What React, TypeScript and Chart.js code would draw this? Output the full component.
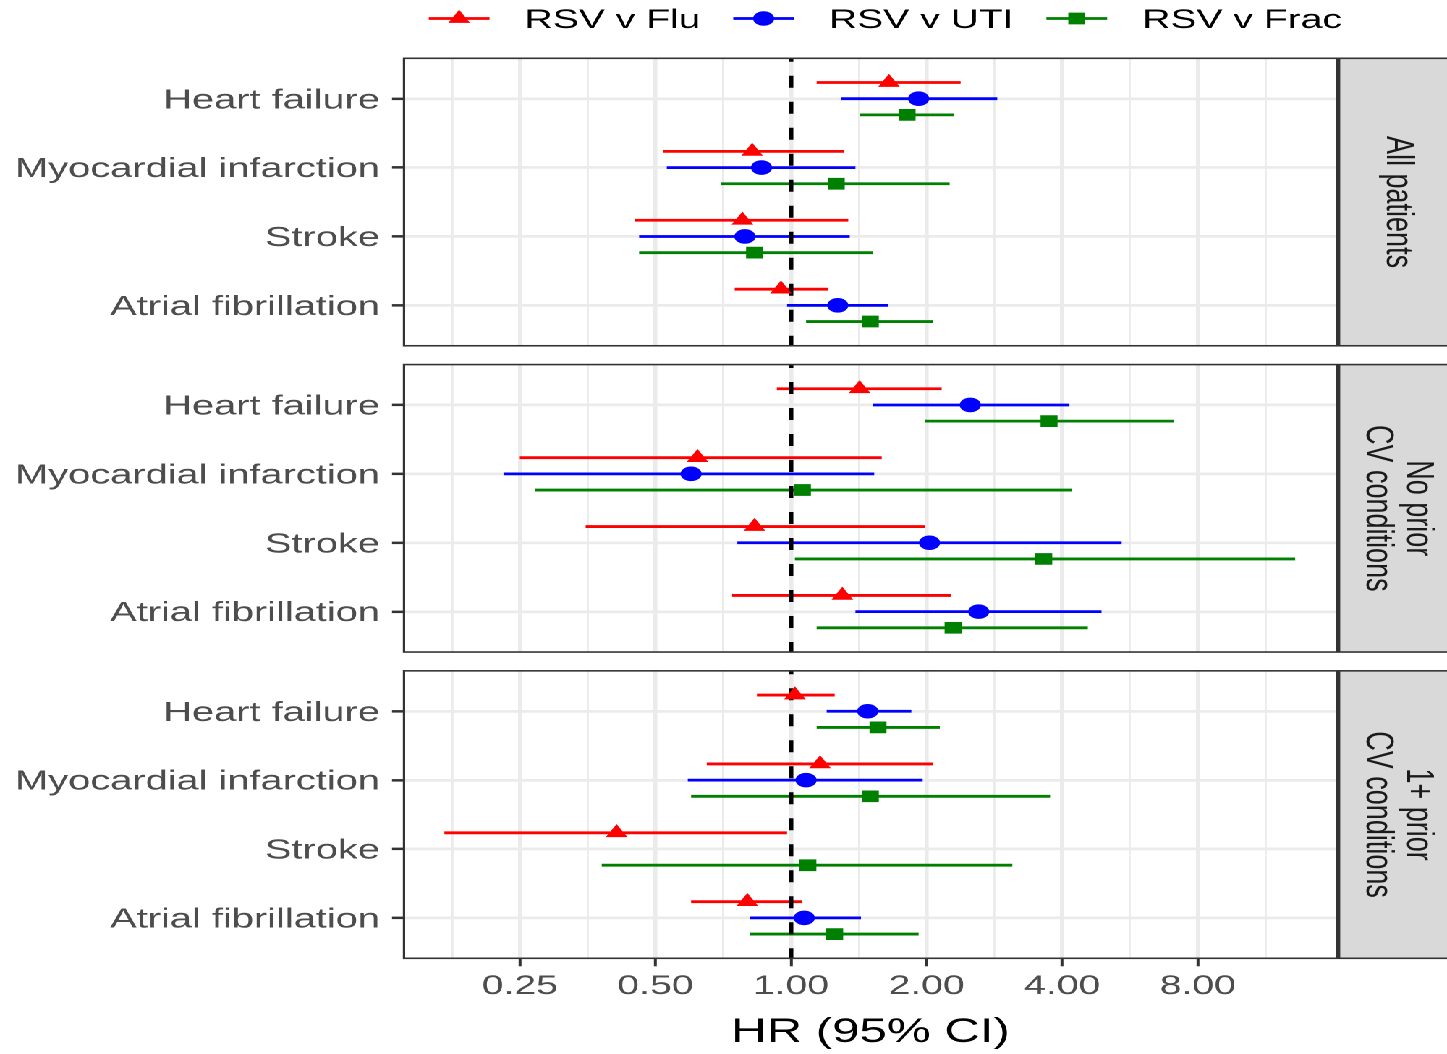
import React, { useEffect, useRef } from 'react';
import { Chart, registerables } from 'chart.js';

Chart.register(...registerables);

// ---------------- data ----------------
const categories = ['Heart failure', 'Myocardial infarction', 'Stroke', 'Atrial fibrillation'];
const facetLabels = [['All patients'], ['No prior', 'CV conditions'], ['1+ prior', 'CV conditions']];
const seriesNames = ['RSV v Flu', 'RSV v UTI', 'RSV v Frac'];
const seriesColors = ['#ff0000', '#0000ff', '#008000'];
const seriesShapes = ['triangle', 'circle', 'rect'];

// values listed facet by facet (All / No prior / 1+ prior), categories in order
const fluHR = [1.65, 0.82, 0.78, 0.95, 1.42, 0.62, 0.83, 1.30, 1.02, 1.16, 0.41, 0.80];
const fluLower = [1.14, 0.52, 0.45, 0.75, 0.93, 0.25, 0.35, 0.74, 0.84, 0.65, 0.17, 0.60];
const fluUpper = [2.38, 1.31, 1.34, 1.21, 2.16, 1.59, 1.98, 2.27, 1.25, 2.07, 0.98, 1.06];

const utiHR = [1.92, 0.86, 0.79, 1.27, 2.50, 0.60, 2.03, 2.61, 1.48, 1.08, null, 1.07];
const utiLower = [1.29, 0.53, 0.46, 0.98, 1.52, 0.23, 0.76, 1.39, 1.20, 0.59, null, 0.81];
const utiUpper = [2.87, 1.39, 1.35, 1.64, 4.15, 1.53, 5.42, 4.89, 1.85, 1.96, null, 1.43];

const fracHR = [1.81, 1.26, 0.83, 1.50, 3.74, 1.06, 3.64, 2.29, 1.56, 1.50, 1.09, 1.25];
const fracLower = [1.42, 0.70, 0.46, 1.08, 1.98, 0.27, 1.02, 1.14, 1.14, 0.60, 0.38, 0.81];
const fracUpper = [2.30, 2.25, 1.52, 2.07, 7.07, 4.21, 13.16, 4.56, 2.14, 3.76, 3.10, 1.92];

const xMajorTicks = [0.25, 0.5, 1, 2, 4, 8];
const xTickLabels = ['0.25', '0.50', '1.00', '2.00', '4.00', '8.00'];
const xMinorTicks = [0.177, 0.354, 0.707, 1.414, 2.828, 5.657, 11.314];
const xLimits = [0.1383, 16.3];
const referenceHR = 1;
const xTitle = 'HR (95% CI)';

// ---------------- layout / style ----------------
const W = 1000;
const H = 1054;
const STRETCH = 1.447;
const FONT = '"Liberation Sans", Arial, Helvetica, sans-serif';
const LABEL_SIZE = 27.5;
const LEGEND_SIZE = 27;
const FACET_STEP = 4.446;
const EXPAND = 0.5865;
const DODGE = 0.235;
const TRI_R = 8.7;
const CIRCLE_R = 7.3;
const RECT_R = 8.3;
const GAP_POINT = { x: NaN, y: NaN };

const seriesValues = [
  { hr: fluHR, lo: fluLower, hi: fluUpper },
  { hr: utiHR, lo: utiLower, hi: utiUpper },
  { hr: fracHR, lo: fracLower, hi: fracUpper },
];

function yPos(k: number, s: number) {
  const facet = Math.floor(k / 4);
  const cat = k % 4;
  return facet * FACET_STEP + cat + (s - 1) * DODGE;
}

const yTickValues: number[] = [];
for (let f = 0; f < 3; f++) for (let c = 0; c < 4; c++) yTickValues.push(f * FACET_STEP + c);

function drawShape(ctx: CanvasRenderingContext2D, shape: string, x: number, y: number, color: string) {
  ctx.fillStyle = color;
  ctx.beginPath();
  if (shape === 'circle') {
    ctx.arc(x, y, CIRCLE_R, 0, Math.PI * 2);
  } else if (shape === 'triangle') {
    const a = (Math.PI * 2) / 3;
    ctx.moveTo(x, y - TRI_R);
    ctx.lineTo(x + TRI_R * Math.sin(a), y - TRI_R * Math.cos(a));
    ctx.lineTo(x + TRI_R * Math.sin(2 * a), y - TRI_R * Math.cos(2 * a));
    ctx.closePath();
  } else {
    const h = RECT_R * Math.SQRT1_2;
    ctx.rect(x - h, y - h, 2 * h, 2 * h);
  }
  ctx.fill();
}

const facetPlugin = {
  id: 'facetDecor',
  beforeDatasetsDraw(chart: any) {
    const { ctx, chartArea } = chart;
    const y = chart.scales.y;
    ctx.save();
    ctx.fillStyle = '#ffffff';
    for (let f = 0; f < 2; f++) {
      const t = y.getPixelForValue(f * FACET_STEP + 3 + EXPAND);
      const b = y.getPixelForValue((f + 1) * FACET_STEP - EXPAND);
      ctx.fillRect(chartArea.left - 2, t, chartArea.right - chartArea.left + 4, b - t);
    }
    ctx.restore();
  },
  afterDraw(chart: any) {
    const { ctx, chartArea } = chart;
    const y = chart.scales.y;
    ctx.save();
    for (let f = 0; f < 3; f++) {
      const t = y.getPixelForValue(f * FACET_STEP - EXPAND);
      const b = y.getPixelForValue(f * FACET_STEP + 3 + EXPAND);
      // strip
      const sx = chartArea.right + 1.4;
      ctx.fillStyle = '#d9d9d9';
      ctx.fillRect(sx, t, 90, b - t);
      ctx.strokeStyle = '#333333';
      ctx.lineWidth = 1.6;
      ctx.strokeRect(sx, t, 90, b - t);
      // panel border
      ctx.strokeRect(chartArea.left, t, chartArea.right - chartArea.left, b - t);
      // strip text
      const lines = facetLabels[f];
      ctx.save();
      ctx.translate(966, (t + b) / 2);
      ctx.rotate(Math.PI / 2);
      ctx.fillStyle = '#1a1a1a';
      ctx.font = `27px ${FONT}`;
      ctx.textAlign = 'center';
      ctx.textBaseline = 'middle';
      lines.forEach((ln, i) => {
        ctx.fillText(ln, 0, (i - (lines.length - 1) / 2) * 27.6);
      });
      ctx.restore();
    }
    // legend
    ctx.font = `${LEGEND_SIZE}px ${FONT}`;
    ctx.textAlign = 'left';
    ctx.textBaseline = 'middle';
    let x = 296.3;
    const ly = 18.5;
    seriesNames.forEach((name, s) => {
      ctx.strokeStyle = seriesColors[s];
      ctx.lineWidth = 2.8;
      ctx.beginPath();
      ctx.moveTo(x, ly);
      ctx.lineTo(x + 42, ly);
      ctx.stroke();
      drawShape(ctx, seriesShapes[s], x + 21, ly, seriesColors[s]);
      x += 42 + 24.2;
      ctx.fillStyle = '#000000';
      ctx.fillText(name, x, ly + 2);
      x += ctx.measureText(name).width + 22.7;
    });
    ctx.restore();
  },
};

export default function App() {
  const ref = useRef<HTMLCanvasElement>(null);

  useEffect(() => {
    const datasets: any[] = [];
    // markers (drawn on top)
    seriesValues.forEach((sv, s) => {
      const pts: any[] = [];
      sv.hr.forEach((v, k) => {
        if (v == null) return;
        pts.push({ x: v, y: yPos(k, s) });
      });
      datasets.push({
        label: seriesNames[s],
        data: pts,
        showLine: false,
        pointStyle: seriesShapes[s],
        pointRadius: s === 0 ? TRI_R : s === 1 ? CIRCLE_R : RECT_R,
        pointBackgroundColor: seriesColors[s],
        pointBorderColor: seriesColors[s],
        pointBorderWidth: 0,
        order: 0,
      });
    });
    // reference line
    const vline: any[] = [];
    for (let f = 0; f < 3; f++) {
      vline.push({ x: referenceHR, y: f * FACET_STEP - EXPAND });
      vline.push({ x: referenceHR, y: f * FACET_STEP + 3 + EXPAND });
      if (f < 2) vline.push({ ...GAP_POINT });
    }
    datasets.push({
      label: 'ref',
      data: vline,
      borderColor: '#000000',
      borderWidth: 3.2,
      borderDash: [12, 14],
      borderDashOffset: 8.6,
      pointRadius: 0,
      spanGaps: false,
      showLine: true,
      order: 1,
    });
    // confidence intervals
    seriesValues.forEach((sv, s) => {
      const seg: any[] = [];
      sv.hr.forEach((v, k) => {
        if (v == null) return;
        const yy = yPos(k, s);
        if (seg.length) seg.push({ ...GAP_POINT });
        seg.push({ x: sv.lo[k], y: yy }, { x: sv.hi[k], y: yy });
      });
      datasets.push({
        label: seriesNames[s] + ' CI',
        data: seg,
        borderColor: seriesColors[s],
        borderWidth: 2.8,
        pointRadius: 0,
        spanGaps: false,
        showLine: true,
        order: 2,
      });
    });

    const isMajor = (v: number) => xMajorTicks.indexOf(v) >= 0;

    const chart = new Chart(ref.current as HTMLCanvasElement, {
      type: 'line',
      data: { datasets },
      options: {
        animation: false,
        responsive: false,
        devicePixelRatio: 2,
        events: [],
        layout: { padding: { left: 0, right: 76, top: 0, bottom: 0 } },
        plugins: {
          legend: { display: false },
          tooltip: { enabled: false },
        },
        scales: {
          x: {
            type: 'logarithmic',
            position: 'bottom',
            min: xLimits[0],
            max: xLimits[1],
            bounds: 'data',
            afterBuildTicks: (s: any) => {
              s.ticks = [...xMinorTicks, ...xMajorTicks].sort((a, b) => a - b).map((v) => ({ value: v }));
            },
            afterFit: (s: any) => {
              s.height = H - 958.3;
            },
            ticks: {
              autoSkip: false,
              maxRotation: 0,
              minRotation: 0,
              padding: 4,
              color: '#4d4d4d',
              font: { family: FONT, size: 27 },
              callback: (v: any) => {
                const i = xMajorTicks.indexOf(Number(v));
                return i >= 0 ? xTickLabels[i] : '';
              },
            },
            grid: {
              color: '#ebebeb',
              lineWidth: (c: any) => (c.tick && isMajor(c.tick.value) ? 2.8 : 1.4),
              tickColor: (c: any) => (c.tick && isMajor(c.tick.value) ? '#333333' : 'rgba(0,0,0,0)'),
              tickWidth: 2,
              tickLength: 8,
            },
            border: { display: false },
            title: {
              display: true,
              text: xTitle,
              color: '#000000',
              font: { family: FONT, size: 34 },
              padding: { top: 0, bottom: 1 },
            },
          },
          xTop: {
            type: 'linear',
            position: 'top',
            display: true,
            grid: { display: false, drawTicks: false },
            ticks: { display: false },
            border: { display: false },
            afterFit: (s: any) => {
              s.height = 58.3;
            },
          },
          y: {
            type: 'linear',
            position: 'left',
            reverse: true,
            min: -EXPAND,
            max: 2 * FACET_STEP + 3 + EXPAND,
            bounds: 'data',
            afterBuildTicks: (s: any) => {
              s.ticks = yTickValues.map((v) => ({ value: v }));
            },
            afterFit: (s: any) => {
              s.width = 279.2;
            },
            ticks: {
              autoSkip: false,
              padding: 8.3,
              labelOffset: 2,
              color: '#4d4d4d',
              font: { family: FONT, size: LABEL_SIZE },
              callback: (_v: any, i: number) => categories[i % 4],
            },
            grid: {
              color: '#ebebeb',
              lineWidth: 2.7,
              tickColor: '#333333',
              tickWidth: 2.5,
              tickLength: 8.3,
            },
            border: { display: false },
          },
        },
      } as any,
      plugins: [facetPlugin],
    });
    return () => chart.destroy();
  }, []);

  return (
    <div
      style={{
        position: 'fixed',
        left: 0,
        top: 0,
        width: W + 'px',
        height: H + 'px',
        transform: `scaleX(${STRETCH})`,
        transformOrigin: '0 0',
        background: '#ffffff',
      }}
    >
      <canvas
        ref={ref}
        width={W}
        height={H}
        style={{ width: W + 'px', height: H + 'px', display: 'block' }}
      />
    </div>
  );
}
